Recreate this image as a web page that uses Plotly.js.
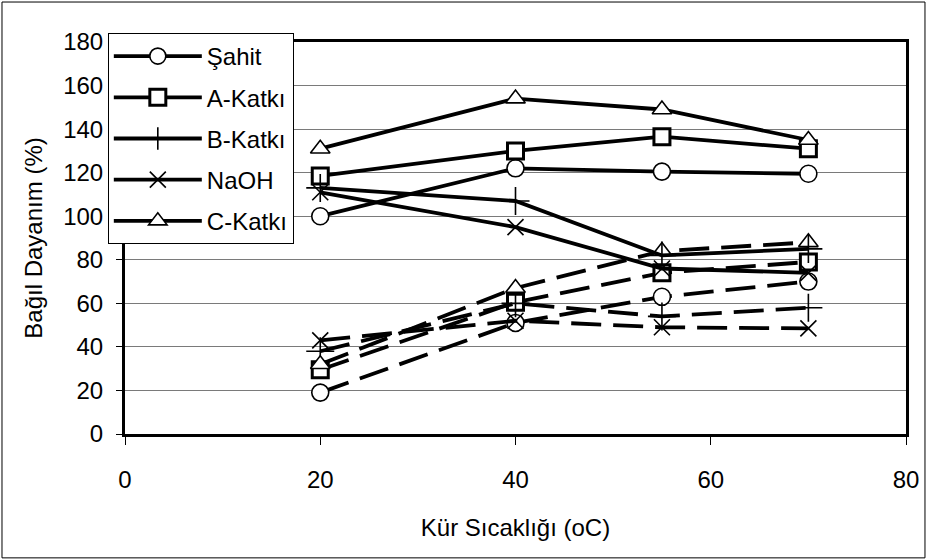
<!DOCTYPE html>
<html>
<head>
<meta charset="utf-8">
<script src="https://cdn.plot.ly/plotly-3.0.1.min.js"></script>
<style>html,body{margin:0;padding:0;background:#fff}#chart{width:927px;height:560px}</style>
</head>
<body>
<div id="chart"></div>
<script>
const temps = [20, 40, 55, 70];
const seriesNames = ["Şahit", "A-Katkı", "B-Katkı", "NaOH", "C-Katkı"];
// solid lines (legend series)
const sahitSolid = [100, 122, 120.5, 119.5];
const aSolid = [118.5, 130, 136.5, 131];
const bSolid = [113, 107, 82, 85];
const naohSolid = [111, 95, 76, 74];
const cSolid = [131, 154, 149, 135];
// dashed lines
const sahitDash = [19, 51, 63, 70];
const aDash = [29.5, 60.5, 74, 79];
const bDash = [38, 60, 54, 58];
const naohDash = [43, 52, 49, 48.5];
const cDash = [32, 67, 84, 88];

const xTicks = [0, 20, 40, 60, 80];
const yTicks = [0, 20, 40, 60, 80, 100, 120, 140, 160, 180];

const markerDefs = [
  {symbol: "circle", color: "#fff", size: 17, line: {color: "#000", width: 1.6}},
  {symbol: "square", color: "#fff", size: 16, line: {color: "#000", width: 3}},
  {symbol: "cross-thin-open", color: "#000", size: 20, line: {color: "#000", width: 1.6}},
  {symbol: "x-thin-open", color: "#000", size: 16, line: {color: "#000", width: 1.6}},
  {symbol: "triangle-up", color: "#fff", size: 17, line: {color: "#000", width: 1.6}}
];
const solids = [sahitSolid, aSolid, bSolid, naohSolid, cSolid];
const dashes = [sahitDash, aDash, bDash, naohDash, cDash];

const traces = [];
dashes.forEach((ys, i) => {
  traces.push({x: temps, y: ys, type: "scatter", mode: "lines+markers", showlegend: false,
    legendgroup: "d" + i,
    name: seriesNames[i], line: {color: "#000", width: 3.8, dash: "30px,12px"}, marker: markerDefs[i]});
});
solids.forEach((ys, i) => {
  traces.push({x: temps, y: ys, type: "scatter", mode: "lines+markers", legendgroup: "s" + i,
    name: seriesNames[i], line: {color: "#000", width: 3.8}, marker: markerDefs[i]});
});

const font = {family: "Liberation Sans, Arial, sans-serif", size: 24, color: "#000"};
const layout = {
  width: 927, height: 560,
  margin: {l: 125, r: 21, t: 42, b: 126},
  paper_bgcolor: "#fff", plot_bgcolor: "#fff",
  font: font,
  showlegend: true,
  legend: {x: -0.022, y: 1.023, xanchor: "left", yanchor: "top", bgcolor: "#fff",
    bordercolor: "#000", borderwidth: 1, font: font, tracegroupgap: 7, itemwidth: 88, traceorder: "grouped"},
  xaxis: {range: [0, 80], tickvals: xTicks, ticktext: xTicks.map(String), showgrid: false, zeroline: false,
    showline: true, linecolor: "#000", linewidth: 3, mirror: true,
    ticks: "outside", ticklen: 8, tickwidth: 1, tickcolor: "#000", ticklabelstandoff: 14,
    title: {text: "Kür Sıcaklığı (oC)", font: font, standoff: 28}},
  yaxis: {range: [0, 180], tickvals: yTicks, ticktext: yTicks.map(String), showgrid: true, gridcolor: "#7a7a7a", gridwidth: 1,
    zeroline: false, showline: true, linecolor: "#000", linewidth: 3, mirror: true,
    ticks: "outside", ticklen: 6, tickwidth: 1, tickcolor: "#000", ticklabelstandoff: 8,
    title: {text: "Bağıl Dayanım (%)", font: font, standoff: 14}},
  shapes: [{type: "rect", xref: "paper", yref: "paper", x0: -0.1575, x1: 1.0243, y0: -0.316, y1: 1.102,
    line: {color: "#000", width: 1}, fillcolor: "rgba(0,0,0,0)", layer: "below"}]
};
Plotly.newPlot("chart", traces, layout, {displayModeBar: false, staticPlot: true});
</script>
</body>
</html>
